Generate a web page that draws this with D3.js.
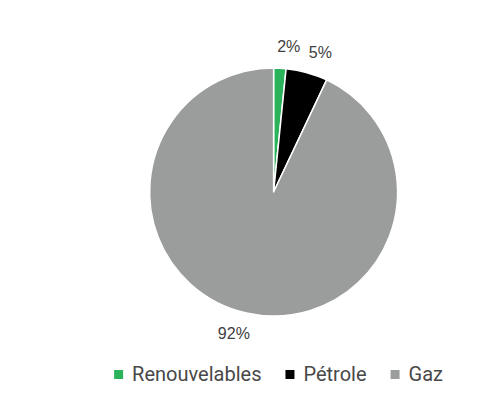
<!DOCTYPE html>
<html><head><meta charset="utf-8">
<script src="https://cdn.jsdelivr.net/npm/d3@7"></script>
<style>html,body{margin:0;padding:0;background:#fff;}</style>
</head><body>
<svg id="chart" width="501" height="419"></svg>
<script>
const categories = ["Renouvelables", "Pétrole", "Gaz"];
const values = [1.6, 5.4, 92.4];
const labels = ["2%", "5%", "92%"];
const colors = ["#2bb35b", "#000000", "#9b9d9d"];

const svg = d3.select("#chart");
const cx = 273.6, cy = 192, R = 124;
const g = svg.append("g").attr("transform", `translate(${cx},${cy})`);

const pie = d3.pie().sort(null).value(d => d.v);
const data = pie(categories.map((c, i) => ({c, v: values[i], l: labels[i], col: colors[i]})));
const arc = d3.arc().innerRadius(0).outerRadius(R);

g.selectAll("path").data(data).join("path")
  .attr("d", arc).attr("fill", d => d.data.col)
  .attr("stroke", "#fff").attr("stroke-width", 1.5).attr("stroke-linejoin", "round");

const labR = 147, shift = 3 * Math.PI / 180;
g.selectAll("text.lab").data(data).join("text").attr("class", "lab")
  .attr("x", d => Math.sin((d.startAngle + d.endAngle) / 2 + shift) * labR)
  .attr("y", d => -Math.cos((d.startAngle + d.endAngle) / 2 + shift) * labR)
  .attr("dy", "0.36em").attr("text-anchor", "middle")
  .attr("font-family", "Liberation Sans, Arial, sans-serif").attr("font-size", 16)
  .attr("fill", "#404040").text(d => d.data.l);

// legend
const lg = svg.append("g");
const items = lg.selectAll("g").data(data).join("g");
items.append("rect").attr("width", 9).attr("height", 9).attr("y", -11).attr("fill", d => d.data.col);
items.append("text").attr("x", 18).attr("y", 0)
  .attr("font-family", "Roboto, sans-serif").attr("font-size", 20)
  .attr("fill", "#484848").text(d => d.data.c);
let x = 0;
items.each(function() {
  const w = this.getBBox().width;
  d3.select(this).attr("transform", `translate(${x},0)`);
  x += w + 24;
});
const total = x - 24;
lg.attr("transform", `translate(${cx + 5 - total / 2},381)`);
</script>
</body></html>
